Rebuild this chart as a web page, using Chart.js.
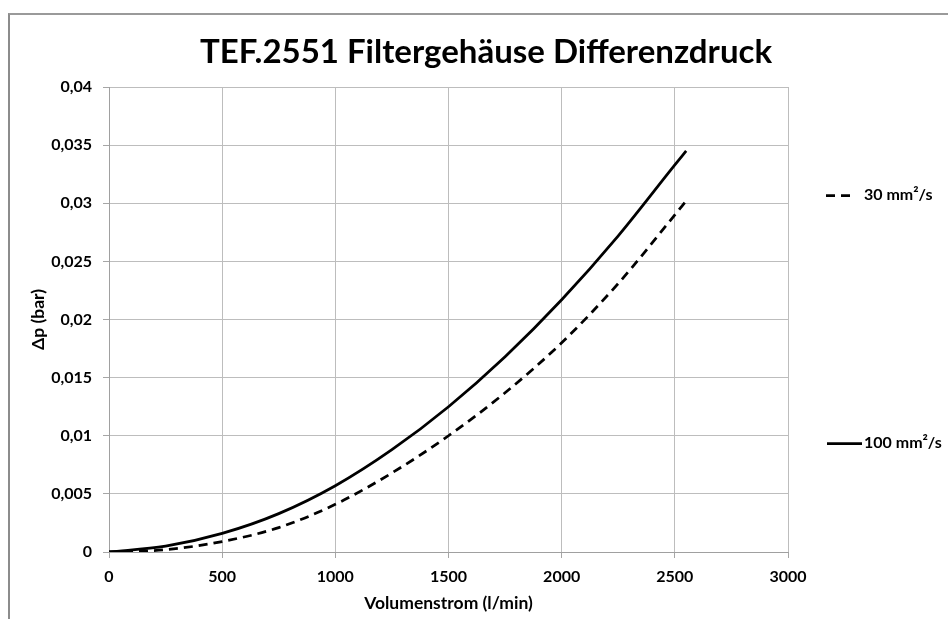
<!DOCTYPE html>
<html>
<head>
<meta charset="utf-8">
<title>TEF.2551 Filtergehäuse Differenzdruck</title>
<script src="https://cdn.jsdelivr.net/npm/chart.js@4.4.0/dist/chart.umd.min.js"></script>
<style>
    body { margin: 0; background: #fff; }
    #wrap { position: relative; width: 948px; height: 619px; overflow: hidden; }
    #frame { position: absolute; left: 8px; top: 13px; width: 1000px; height: 700px;
             border-left: 2px solid #8c8c8c; border-top: 2px solid #9a9a9a; pointer-events: none; }
    canvas { position: absolute; left: 0; top: 0; }
</style>
</head>
<body>
<div id="wrap">
    <canvas id="chart" width="948" height="619"></canvas>
    <div id="frame"></div>
</div>
<script>
// values
let flows = [0, 250, 500, 750, 1000, 1250, 1500, 1750, 2000, 2250, 2500, 2550]; // l/min
let dp100 = [0, 0.0005, 0.0016, 0.0033, 0.0057, 0.0088, 0.0125, 0.0168, 0.0217, 0.0272, 0.0333, 0.0345]; // 100 mm²/s
let dp30 = [0, 0.0002, 0.0009, 0.0021, 0.0041, 0.0068, 0.0100, 0.0137, 0.0180, 0.0231, 0.0290, 0.0302]; // 30 mm²/s

let chartTitle = "TEF.2551 Filtergehäuse Differenzdruck";
let xTitle = "Volumenstrom (l/min)";
let yTitle = "Δp (bar)";
let seriesNames = ["30 mm²/s", "100 mm²/s"];

let fontFamily = "Lato, 'Open Sans', sans-serif";
Chart.defaults.font.family = fontFamily;
Chart.defaults.color = "#000";

function toPoints(ys) {
    return flows.map((f, i) => ({ x: f, y: ys[i] }));
}

// title and the two legend entries sit at fixed spots like in the excel chart
let textPlugin = {
    id: "texts",
    afterDraw(chart) {
        let ctx = chart.ctx;
        ctx.save();
        ctx.fillStyle = "#000";
        ctx.textBaseline = "middle";

        ctx.font = "bold 33px " + fontFamily;
        ctx.textAlign = "center";
        ctx.fillText(chartTitle, 486, 52);

        ctx.font = "bold 16px " + fontFamily;
        ctx.textAlign = "left";
        ctx.strokeStyle = "#000";
        ctx.lineWidth = 2.75;

        ctx.setLineDash([9, 6]);
        ctx.beginPath();
        ctx.moveTo(826, 195.5);
        ctx.lineTo(853, 195.5);
        ctx.stroke();
        ctx.fillText(seriesNames[0], 864, 195);

        ctx.setLineDash([]);
        ctx.beginPath();
        ctx.moveTo(827, 443.5);
        ctx.lineTo(862, 443.5);
        ctx.stroke();
        ctx.fillText(seriesNames[1], 864, 443);
        ctx.restore();
    }
};

let context = document.getElementById("chart").getContext("2d");

let chart = new Chart(context,
{
    type: "line",
    data:
    {
        datasets:
        [{
            label: seriesNames[0],
            data: toPoints(dp30),
            borderColor: "#000",
            borderWidth: 2.75,
            borderDash: [9, 6],
            pointRadius: 0,
            cubicInterpolationMode: "monotone",
            fill: false
        },
        {
            label: seriesNames[1],
            data: toPoints(dp100),
            borderColor: "#000",
            borderWidth: 2.75,
            pointRadius: 0,
            cubicInterpolationMode: "monotone",
            fill: false
        }]
    },
    options:
    {
        responsive: false,
        animation: false,
        layout: { padding: { left: 0, right: 160, top: 87, bottom: 0 } },
        plugins:
        {
            legend: { display: false },
            title: { display: false },
            tooltip: { enabled: false }
        },
        scales:
        {
            x:
            {
                type: "linear",
                min: 0,
                max: 3000,
                ticks:
                {
                    stepSize: 500,
                    padding: 9,
                    maxRotation: 0,
                    font: { size: 16, weight: "bold" },
                    callback: v => String(v)
                },
                grid: { color: "#bdbdbd", tickLength: 6, tickColor: "#a6a6a6" },
                border: { color: "#a0a0a0", width: 1 },
                title:
                {
                    display: true,
                    text: xTitle,
                    font: { size: 17.5, weight: "bold" },
                    padding: { top: 0, bottom: 5 }
                },
                afterFit: s => { s.height = 67; }
            },
            y:
            {
                min: 0,
                max: 0.04,
                ticks:
                {
                    stepSize: 0.005,
                    padding: 11,
                    font: { size: 16, weight: "bold" },
                    callback: v => String(Number(v.toFixed(3))).replace(".", ",")
                },
                grid: { color: "#bdbdbd", tickLength: 6, tickColor: "#a6a6a6" },
                border: { color: "#a0a0a0", width: 1 },
                title:
                {
                    display: true,
                    text: yTitle,
                    font: { size: 17.5, weight: "bold" },
                    padding: { top: 28, bottom: 0 }
                },
                afterFit: s => { s.width = 109; }
            }
        }
    },
    plugins: [textPlugin]
});
</script>
</body>
</html>
